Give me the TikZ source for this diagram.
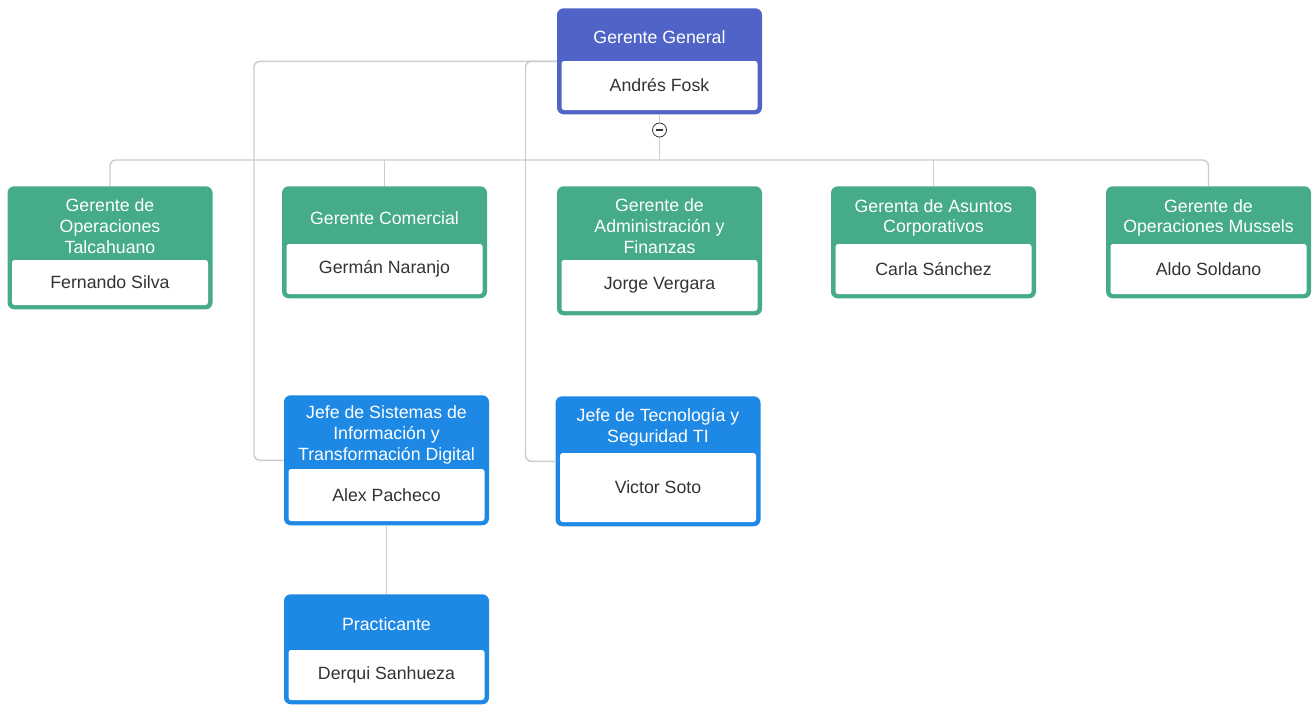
\documentclass[tikz,border=0pt]{standalone}
\usepackage{fontspec}
\setmainfont{Liberation Sans}
\definecolor{headblue}{HTML}{4F64C6}
\definecolor{mgrgreen}{HTML}{45AB8B}
\definecolor{chiefblue}{HTML}{1E88E5}
\definecolor{linkgray}{HTML}{CCCCCC}
\definecolor{namegray}{HTML}{333333}
\begin{document}
\begin{tikzpicture}[x=0.75pt, y=-0.75pt,
  frame/.style={fill=#1, rounded corners=5pt, minimum width=153.75pt, anchor=north, inner sep=0pt},
  role/.style={text=white, align=center, inner sep=0pt, font=\fontsize{13.3}{15.5}\selectfont},
  person/.style={fill=white, rounded corners=2pt, minimum width=147pt, inner sep=0pt, text=namegray, font=\fontsize{13.3}{15.5}\selectfont},
  link/.style={draw=linkgray, line width=1.1pt, rounded corners=4.5pt},
  toggle/.style={circle, draw=black!80, fill=white, line width=0.6pt, minimum size=10.5pt, inner sep=0pt,
    path picture={\draw[line width=0.8pt] (path picture bounding box.center)+(-2.8pt,0) -- +(2.8pt,0);}}]
  \useasboundingbox (0,0) rectangle (1314,704);
  % gerente general
  \node[frame=headblue, minimum height=79.5pt] (gg) at (659.5,8) {};
  \node[role] (gg-r) at (659.5,37) {Gerente General};
  \node[person, minimum height=36.75pt] (gg-p) at (659.5,85.5) {Andrés Fosk};
  % gerentes
  \node[frame=mgrgreen, minimum height=92.25pt] (tal) at (110,186) {};
  \node[role] (tal-r) at (110,226) {Gerente de\\Operaciones\\Talcahuano};
  \node[person, minimum height=33.75pt] (tal-p) at (110,282.5) {Fernando Silva};
  \node[frame=mgrgreen, minimum height=84pt] (com) at (384.5,186) {};
  \node[role] (com-r) at (384.5,218) {Gerente Comercial};
  \node[person, minimum height=37.5pt] (com-p) at (384.5,269) {Germán Naranjo};
  \node[frame=mgrgreen, minimum height=96.75pt] (adm) at (659.5,186) {};
  \node[role] (adm-r) at (659.5,226) {Gerente de\\Administración y\\Finanzas};
  \node[person, minimum height=38.25pt] (adm-p) at (659.5,285.5) {Jorge Vergara};
  \node[frame=mgrgreen, minimum height=84pt] (corp) at (933.5,186) {};
  \node[role] (corp-r) at (933.5,218) {Gerenta de Asuntos\\Corporativos};
  \node[person, minimum height=37.5pt] (corp-p) at (933.5,269) {Carla Sánchez};
  \node[frame=mgrgreen, minimum height=84pt] (mus) at (1208.5,186) {};
  \node[role] (mus-r) at (1208.5,218) {Gerente de\\Operaciones Mussels};
  \node[person, minimum height=37.5pt] (mus-p) at (1208.5,269) {Aldo Soldano};
  % jefes
  \node[frame=chiefblue, minimum height=97.5pt] (sis) at (386.5,395) {};
  \node[role] (sis-r) at (386.5,435) {Jefe de Sistemas de\\Información y\\Transformación Digital};
  \node[person, minimum height=39pt] (sis-p) at (386.5,495) {Alex Pacheco};
  \node[frame=chiefblue, minimum height=97.5pt] (tec) at (658,396) {};
  \node[role] (tec-r) at (658,427) {Jefe de Tecnología y\\Seguridad TI};
  \node[person, minimum height=51.75pt] (tec-p) at (658,487.5) {Victor Soto};
  \node[frame=chiefblue, minimum height=82.5pt] (prac) at (386.5,594) {};
  \node[role] (prac-r) at (386.5,624) {Practicante};
  \node[person, minimum height=37.5pt] (prac-p) at (386.5,675) {Derqui Sanhueza};
  % lineas
  \coordinate (bus) at (0,160);
  \coordinate (lane1) at (254,0);
  \coordinate (lane2) at (525.5,0);
  \draw[link] (gg.south) -- (gg.south |- bus);
  \draw[link] (tal.north) |- (gg.south |- bus) -| (mus.north);
  \draw[link] (com.north) -- (com.north |- bus);
  \draw[link] (corp.north) -- (corp.north |- bus);
  \draw[link] (gg.west) -| (lane1 |- sis.west) -- (sis.west);
  \draw[link] (gg.west) -| (lane2 |- tec.west) -- (tec.west);
  \draw[link] (sis.south) -- (prac.north);
  \node[toggle] (gg-min) at (659.5,130) {};
\end{tikzpicture}
\end{document}
